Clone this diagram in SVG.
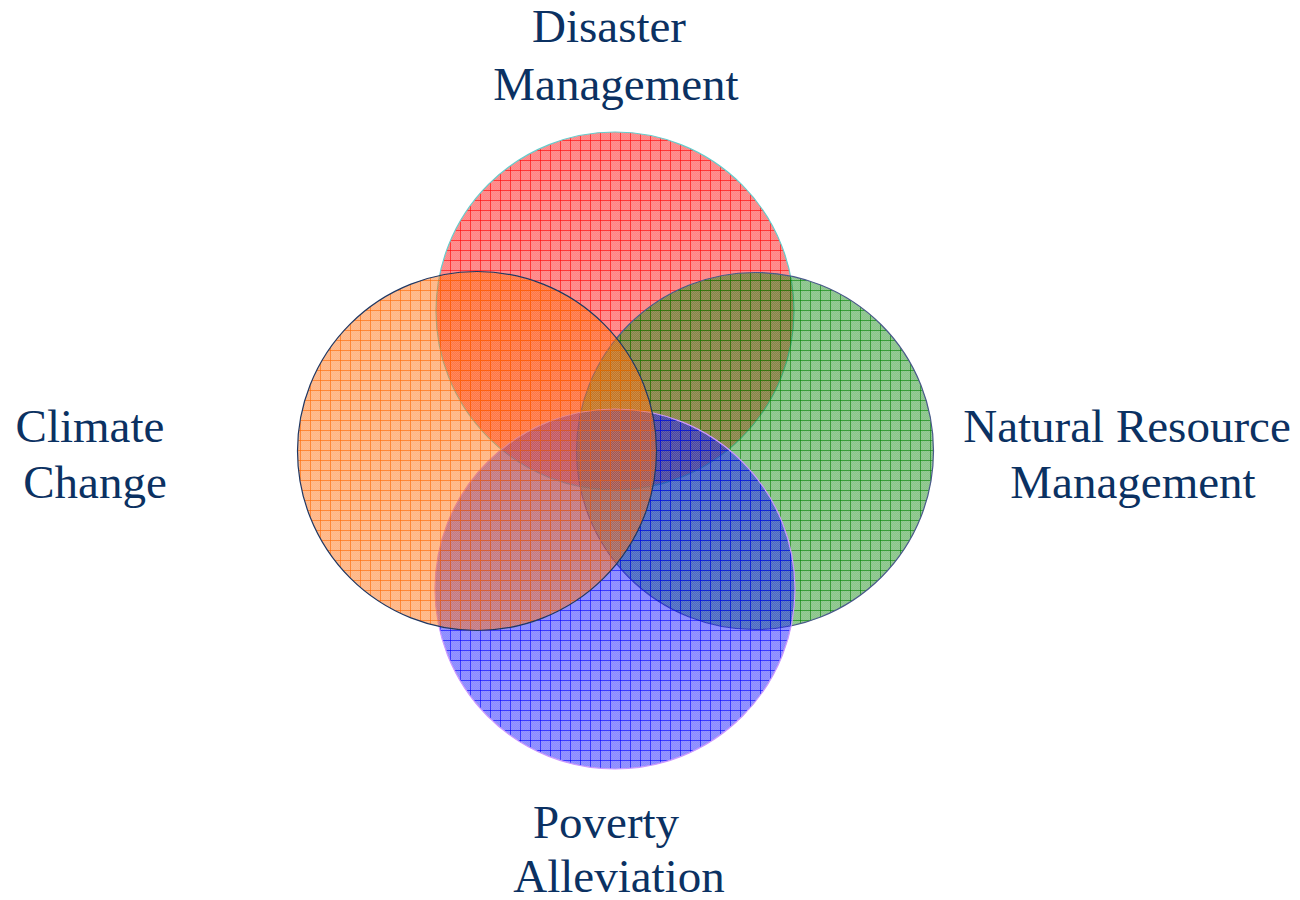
<svg xmlns="http://www.w3.org/2000/svg" width="1300" height="900" viewBox="0 0 1300 900">
<style>
.lbl{font-family:"Liberation Serif","Times New Roman",serif;font-size:47px;fill:#0B3162;text-anchor:middle}
.c{stroke-width:1.2}
</style>
<defs>
<pattern id="chk" width="2" height="2" patternUnits="userSpaceOnUse">
<rect width="1" height="1" fill="#fff" fill-opacity="0.1"/>
<rect x="1" y="1" width="1" height="1" fill="#fff" fill-opacity="0.1"/>
</pattern>
<pattern id="pRed" width="10" height="10" patternUnits="userSpaceOnUse">
<rect width="10" height="10" fill="#FF0000" fill-opacity="0.48"/>
<rect width="10" height="10" fill="url(#chk)"/>
<path d="M0.5 0V10M0 0.5H10" stroke="#FF0000" stroke-opacity="0.6" stroke-width="1"/>
</pattern>
<pattern id="pOrange" width="10" height="10" patternUnits="userSpaceOnUse">
<rect width="10" height="10" fill="#FF6600" fill-opacity="0.48"/>
<rect width="10" height="10" fill="url(#chk)"/>
<path d="M0.5 0V10M0 0.5H10" stroke="#FF6600" stroke-opacity="0.6" stroke-width="1"/>
</pattern>
<pattern id="pGreen" width="10" height="10" patternUnits="userSpaceOnUse">
<rect width="10" height="10" fill="#008000" fill-opacity="0.46"/>
<rect width="10" height="10" fill="url(#chk)"/>
<path d="M0.5 0V10M0 0.5H10" stroke="#008000" stroke-opacity="0.6" stroke-width="1"/>
</pattern>
<pattern id="pBlue" width="10" height="10" patternUnits="userSpaceOnUse">
<rect width="10" height="10" fill="#0000FF" fill-opacity="0.46"/>
<rect width="10" height="10" fill="url(#chk)"/>
<path d="M0.5 0V10M0 0.5H10" stroke="#0000FF" stroke-opacity="0.6" stroke-width="1"/>
</pattern>
</defs>
<rect width="1300" height="900" fill="#fff"/>
<g id="disaster">
<circle class="c" cx="615" cy="311" r="179" fill="url(#pRed)" stroke="#66CCCC"/>
</g>
<g id="nrm">
<circle class="c" cx="755" cy="451" r="178.5" fill="url(#pGreen)" stroke="#4A5A8A"/>
</g>
<g id="poverty">
<circle class="c" cx="615" cy="589" r="180" fill="url(#pBlue)" stroke="#CC99FF"/>
</g>
<g id="climate">
<circle class="c" cx="477" cy="451" r="179.5" fill="url(#pOrange)" stroke="#1F3864"/>
</g>
<g id="connectors"></g>
<g id="labels">
<text class="lbl" x="609" y="42">Disaster</text>
<text class="lbl" x="616" y="100">Management</text>
<text class="lbl" x="90" y="442">Climate</text>
<text class="lbl" x="95" y="498">Change</text>
<text class="lbl" x="1127" y="442">Natural Resource</text>
<text class="lbl" x="1133" y="498">Management</text>
<text class="lbl" x="606" y="838">Poverty</text>
<text class="lbl" x="619" y="892">Alleviation</text>
</g>
</svg>
